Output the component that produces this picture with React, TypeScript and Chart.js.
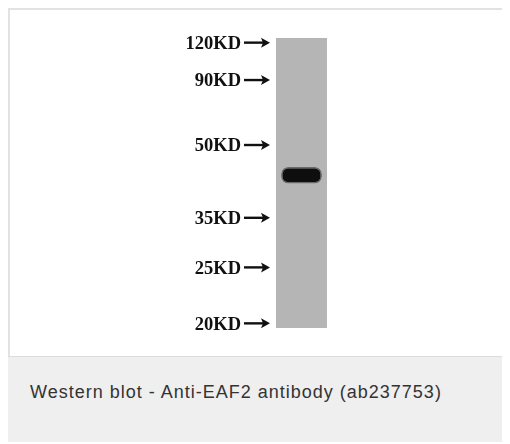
import { useEffect, useRef } from "react";
import { Chart, registerables } from "chart.js";
import type { Plugin } from "chart.js";

Chart.register(...registerables);

// marker ladder (relative migration in the lane, 0 = top of lane, 1 = bottom)
const markerLabels = ["120KD", "90KD", "50KD", "35KD", "25KD", "20KD"];
const markerMobility = [0.016, 0.145, 0.369, 0.62, 0.791, 0.984];

// sample lane and detected band
const laneLabels = ["EAF2"];
const laneRange: [number, number] = [0, 1];
const bandRange: [number, number] = [0.445, 0.502];

const caption = "Western blot - Anti-EAF2 antibody (ab237753)";

// arrows between the marker labels and the lane
const arrowPlugin: Plugin<"bar"> = {
  id: "markerArrows",
  afterDraw(chart) {
    const { ctx, chartArea } = chart;
    const y = chart.scales.y;
    const x1 = chartArea.left - 32;
    const x2 = chartArea.left - 6;
    ctx.save();
    ctx.fillStyle = "#111";
    ctx.strokeStyle = "#111";
    ctx.lineWidth = 2.4;
    markerMobility.forEach((v) => {
      const py = y.getPixelForValue(v);
      ctx.beginPath();
      ctx.moveTo(x1, py);
      ctx.lineTo(x2 - 5, py);
      ctx.stroke();
      ctx.beginPath();
      ctx.moveTo(x2, py);
      ctx.lineTo(x2 - 9, py - 5);
      ctx.lineTo(x2 - 7, py);
      ctx.lineTo(x2 - 9, py + 5);
      ctx.closePath();
      ctx.fill();
    });
    ctx.restore();
  },
};

export default function App() {
  const canvasRef = useRef<HTMLCanvasElement>(null);
  const chartRef = useRef<Chart<"bar"> | null>(null);

  useEffect(() => {
    if (!canvasRef.current) return;
    chartRef.current?.destroy();

    chartRef.current = new Chart(canvasRef.current, {
      type: "bar",
      data: {
        labels: laneLabels,
        datasets: [
          {
            label: "band",
            data: [bandRange],
            backgroundColor: "#0e0e0e",
            borderColor: "rgba(30,30,30,0.5)",
            borderWidth: 1.5,
            borderSkipped: false,
            borderRadius: 7,
            barPercentage: 0.8,
            categoryPercentage: 1,
            grouped: false,
            order: 0,
          },
          {
            label: "lane",
            data: [laneRange],
            backgroundColor: "#b5b5b5",
            borderSkipped: false,
            barPercentage: 1,
            categoryPercentage: 1,
            grouped: false,
            order: 1,
          },
        ],
      },
      options: {
        responsive: true,
        maintainAspectRatio: false,
        animation: false,
        layout: { padding: { top: 28, bottom: 28, right: 183, left: 0 } },
        plugins: {
          legend: { display: false },
          tooltip: { enabled: false },
        },
        scales: {
          x: { display: false },
          y: {
            min: 0,
            max: 1,
            reverse: true,
            grid: { display: false, drawTicks: false },
            border: { display: false },
            afterFit(scale) {
              scale.width = 266;
              scale.paddingTop = 0;
              scale.paddingBottom = 0;
            },
            afterBuildTicks(scale) {
              scale.ticks = markerMobility.map((v) => ({ value: v }));
            },
            ticks: {
              padding: 35,
              labelOffset: 1.5,
              color: "#111",
              font: { family: "'Liberation Serif'", weight: "bold", size: 18.5 },
              callback: (value) => {
                const i = markerMobility.indexOf(Number(value));
                return i >= 0 ? markerLabels[i] : "";
              },
            },
          },
        },
      },
      plugins: [arrowPlugin],
    });

    return () => {
      chartRef.current?.destroy();
      chartRef.current = null;
    };
  }, []);

  return (
    <div
      style={{
        marginRight: -8,
        borderLeft: "2px solid #e2e2e2",
        borderTop: "2px solid #e2e2e2",
        background: "#fff",
      }}
    >
      <div style={{ position: "relative", height: 346 }}>
        <canvas ref={canvasRef}></canvas>
      </div>
      <div
        style={{
          background: "#eeefee",
          borderTop: "1px solid #dcdcdc",
          height: 86,
          marginLeft: -2,
          paddingLeft: 22,
          paddingTop: 25,
          boxSizing: "border-box",
          fontFamily: "'Liberation Sans', Arial, sans-serif",
          fontSize: 18,
          letterSpacing: 1,
          color: "#333",
        }}
      >
        {caption}
      </div>
    </div>
  );
}
